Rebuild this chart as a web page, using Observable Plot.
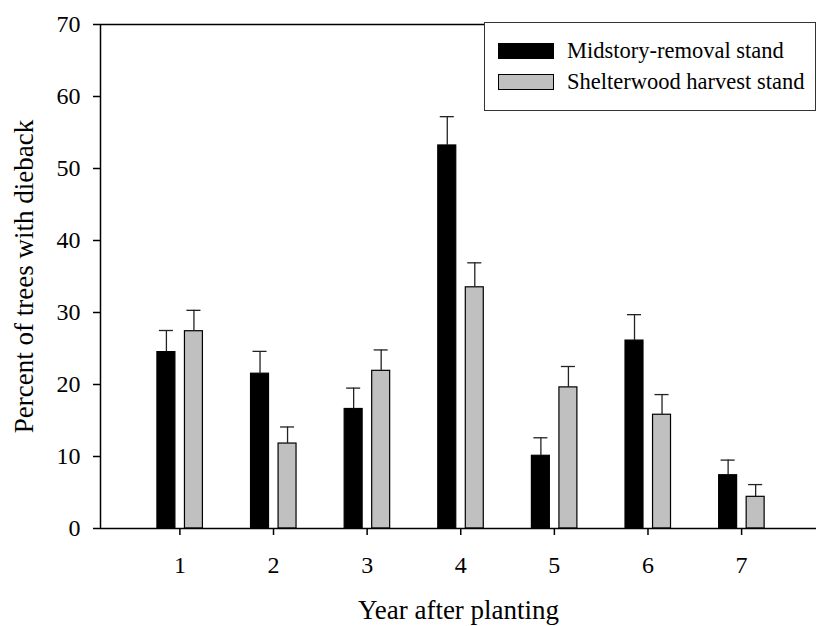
<!DOCTYPE html>
<html><head><meta charset="utf-8">
<script src="https://cdn.jsdelivr.net/npm/d3@7"></script>
<script src="https://cdn.jsdelivr.net/npm/@observablehq/plot@0.6"></script>
<style>
body{margin:0;background:#fff;}
#wrap{position:relative;width:816px;height:626px;overflow:hidden;}
.legend{position:absolute;left:484px;top:22px;width:332px;height:89px;border:1px solid #333;background:#fff;box-sizing:border-box;font-family:"Liberation Serif";font-size:22.5px;color:#000;}
.sw{position:absolute;left:13px;width:56px;height:16px;box-sizing:border-box;border:1.5px solid #000;}
.lt{position:absolute;left:82px;line-height:1;white-space:nowrap;}
</style></head><body><div id="wrap"></div>
<script>
const years = [1, 2, 3, 4, 5, 6, 7];
const midstory = [24.5, 21.5, 16.6, 53.2, 10.1, 26.1, 7.4];
const midstoryErr = [3.0, 3.1, 2.9, 4.0, 2.5, 3.6, 2.1];
const shelterwood = [27.4, 11.8, 21.9, 33.5, 19.6, 15.8, 4.4];
const shelterwoodErr = [2.9, 2.3, 2.9, 3.4, 2.9, 2.8, 1.7];
const seriesNames = ["Midstory-removal stand", "Shelterwood harvest stand"];
const yTicks = [0, 10, 20, 30, 40, 50, 60, 70];
const xTitle = "Year after planting";
const yTitle = "Percent of trees with dieback";

const colors = ["#000000", "#c0c0c0"];
const rows = [];
years.forEach((yr, i) => {
  rows.push({year: yr, series: seriesNames[0], value: midstory[i], err: midstoryErr[i]});
  rows.push({year: yr, series: seriesNames[1], value: shelterwood[i], err: shelterwoodErr[i]});
});
const offset = {[seriesNames[0]]: -0.144, [seriesNames[1]]: 0.15};
const half = 0.096, capHalf = 0.075;
const center = d => d.year + offset[d.series];
const xDomain = [0.152, 7.8];

const chart = Plot.plot({
  width: 816, height: 626,
  marginLeft: 100, marginRight: 0, marginTop: 24, marginBottom: 98,
  style: {fontFamily: "Liberation Serif", fontSize: "24px", background: "#fff", color: "#000"},
  x: {type: "linear", domain: xDomain},
  y: {domain: [0, 70]},
  color: {domain: seriesNames, range: colors},
  marks: [
    Plot.rectY(rows, {x1: d => center(d) - half, x2: d => center(d) + half, y1: 0, y2: "value", fill: "series", stroke: "#000", strokeWidth: 1.2}),
    Plot.ruleX(rows, {x: center, y1: "value", y2: d => d.value + d.err, stroke: "#222", strokeWidth: 1.3}),
    Plot.ruleY(rows, {y: d => d.value + d.err, x1: d => center(d) - capHalf, x2: d => center(d) + capHalf, stroke: "#222", strokeWidth: 1.3}),
    Plot.ruleY([0, 70], {stroke: "#000", strokeWidth: 1.5}),
    Plot.ruleX([xDomain[0]], {stroke: "#000", strokeWidth: 1.5}),
    Plot.axisY({ticks: yTicks, tickSize: 7, tickPadding: 13, label: null, strokeWidth: 1.5, tickFormat: d => String(d)}),
    Plot.axisX({ticks: years, tickSize: 7, tickPadding: 20, label: null, strokeWidth: 1.5, tickFormat: d => String(d)}),
    Plot.text([xTitle], {text: d => d, frameAnchor: "bottom", textAnchor: "middle", dy: 82, lineAnchor: "middle", fontSize: 27}),
    Plot.text([yTitle], {text: d => d, frameAnchor: "left", textAnchor: "middle", dx: -76, rotate: -90, lineAnchor: "middle", fontSize: 27})
  ]
});
const wrap = document.getElementById("wrap");
wrap.appendChild(chart);

const legend = document.createElement("div");
legend.className = "legend";
const swTops = [19.7, 51];
const txtTops = [17.2, 48.2];
seriesNames.forEach((name, i) => {
  const sw = document.createElement("div");
  sw.className = "sw";
  sw.style.top = swTops[i] + "px";
  sw.style.background = colors[i];
  legend.appendChild(sw);
  const t = document.createElement("div");
  t.className = "lt";
  t.style.top = txtTops[i] + "px";
  t.textContent = name;
  legend.appendChild(t);
});
wrap.appendChild(legend);
</script>
</body></html>
